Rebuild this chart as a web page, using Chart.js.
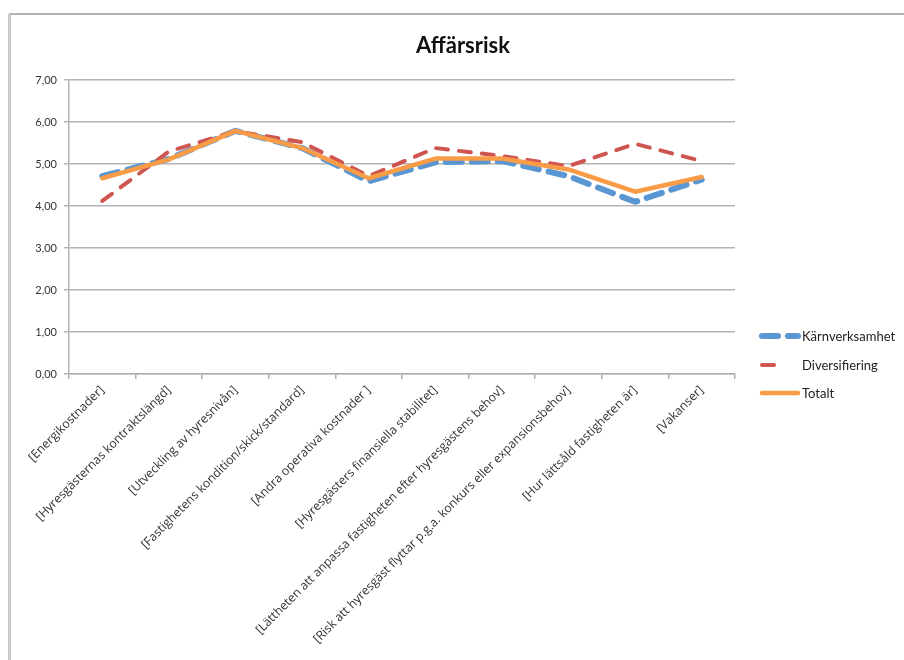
<!DOCTYPE html>
<html>
<head>
<meta charset="utf-8">
<title>Affärsrisk</title>
<script src="https://cdn.jsdelivr.net/npm/chart.js@4.4.1/dist/chart.umd.min.js"></script>
<style>
  html, body { margin: 0; padding: 0; background: #fff; }
  #wrap { position: relative; width: 904px; height: 660px; }
</style>
</head>
<body>
<div id="wrap"><canvas id="myChart" width="904" height="660"></canvas></div>
<script>
var chartTitle = 'Affärsrisk';

var categories = [
    '[Energikostnader]',
    '[Hyresgästernas kontraktslängd]',
    '[Utveckling av hyresnivån]',
    '[Fastighetens kondition/skick/standard]',
    '[Andra operativa kostnader ]',
    '[Hyresgästers finansiella stabilitet]',
    '[Lättheten att anpassa fastigheten efter hyresgästens behov]',
    '[Risk att hyresgäst flyttar p.g.a. konkurs eller expansionsbehov]',
    '[Hur lättsåld fastigheten är]',
    '[Vakanser]'
];

var seriesNames = ['Kärnverksamhet', 'Diversifiering', 'Totalt'];

var karnverksamhet = [4.71, 5.12, 5.79, 5.38, 4.59, 5.04, 5.07, 4.71, 4.10, 4.63];
var diversifiering = [4.12, 5.30, 5.78, 5.52, 4.71, 5.38, 5.19, 4.95, 5.48, 5.07];
var totalt         = [4.66, 5.11, 5.79, 5.38, 4.66, 5.13, 5.13, 4.87, 4.34, 4.69];

var yTickLabels = ['0,00', '1,00', '2,00', '3,00', '4,00', '5,00', '6,00', '7,00'];

var FONT = 'Lato, "Open Sans", sans-serif';
var LABEL_FONT = '"Open Sans", Lato, sans-serif';

// legend entries: sample length differs per series (short dash for Diversifiering)
var legendSample = [40, 20, 40];

const frameAndText = {
    id: 'frameAndText',
    afterDraw: function (chart) {
        var ctx = chart.ctx;
        ctx.save();

        // outer frame (top + left edge)
        ctx.strokeStyle = '#9a9a9a';
        ctx.lineWidth = 1.5;
        ctx.beginPath();
        ctx.moveTo(9, 14);
        ctx.lineTo(chart.width, 14);
        ctx.stroke();
        ctx.strokeStyle = '#cacaca';
        ctx.lineWidth = 3;
        ctx.beginPath();
        ctx.moveTo(9.5, 14);
        ctx.lineTo(9.5, chart.height);
        ctx.stroke();

        // title
        ctx.fillStyle = '#111';
        ctx.font = 'bold 22px ' + FONT;
        ctx.textAlign = 'center';
        ctx.textBaseline = 'middle';
        ctx.fillText(chartTitle, 463, 46);

        // legend
        var ys = [336, 365, 393];
        chart.data.datasets.forEach(function (ds, i) {
            ctx.strokeStyle = ds.borderColor;
            ctx.lineWidth = ds.borderWidth;
            ctx.lineCap = ds.borderCapStyle || 'butt';
            ctx.setLineDash(ds.borderDash || []);
            ctx.beginPath();
            ctx.moveTo(762, ys[i]);
            ctx.lineTo(762 + legendSample[i] - 4, ys[i]);
            ctx.stroke();
            ctx.setLineDash([]);
            ctx.fillStyle = '#222';
            ctx.font = '13px ' + FONT;
            ctx.textAlign = 'left';
            ctx.fillText(ds.label, 802, ys[i] + 1);
        });
        ctx.restore();
    }
};

const ctx = document.getElementById('myChart');
const myChart = new Chart(ctx, {
    type: 'line',
    data: {
        labels: categories,
        datasets: [{
            label: seriesNames[0],
            data: karnverksamhet,
            borderColor: '#5a97d2',
            borderWidth: 6,
            borderDash: [16, 10],
            borderCapStyle: 'round',
            borderJoinStyle: 'round',
            pointRadius: 0,
            fill: false,
            tension: 0,
            order: 2
        }, {
            label: seriesNames[1],
            data: diversifiering,
            borderColor: '#cf5550',
            borderWidth: 4,
            borderDash: [12, 11],
            borderCapStyle: 'round',
            borderJoinStyle: 'round',
            pointRadius: 0,
            fill: false,
            tension: 0,
            order: 1
        }, {
            label: seriesNames[2],
            data: totalt,
            borderColor: '#f89c48',
            borderWidth: 4.5,
            borderCapStyle: 'round',
            borderJoinStyle: 'round',
            pointRadius: 0,
            fill: false,
            tension: 0,
            order: 0
        }]
    },
    options: {
        responsive: false,
        animation: false,
        devicePixelRatio: 1,
        layout: { padding: { top: 80, right: 169, bottom: 0, left: 0 } },
        plugins: {
            legend: { display: false },
            title: { display: false },
            tooltip: { enabled: false }
        },
        scales: {
            x: {
                offset: true,
                grid: {
                    offset: true,
                    drawOnChartArea: false,
                    drawTicks: true,
                    tickLength: 5,
                    color: '#b0b0b0',
                    lineWidth: 1.5
                },
                border: { color: '#b0b0b0', width: 1.5 },
                ticks: {
                    autoSkip: false,
                    minRotation: 45,
                    maxRotation: 45,
                    padding: 4,
                    color: '#333',
                    font: { family: LABEL_FONT, size: 12.2 }
                },
                afterFit: function (scale) { scale.height = 286; }
            },
            y: {
                min: 0,
                max: 7,
                ticks: {
                    stepSize: 1,
                    padding: 7,
                    color: '#333',
                    font: { family: FONT, size: 11 },
                    callback: function (value) { return yTickLabels[Math.round(value)]; }
                },
                grid: {
                    color: '#b4b4b4',
                    lineWidth: 1.5,
                    tickLength: 5
                },
                border: { color: '#b4b4b4', width: 1.5 },
                afterFit: function (scale) { scale.width = 69; }
            }
        }
    },
    plugins: [frameAndText]
});
</script>
</body>
</html>
